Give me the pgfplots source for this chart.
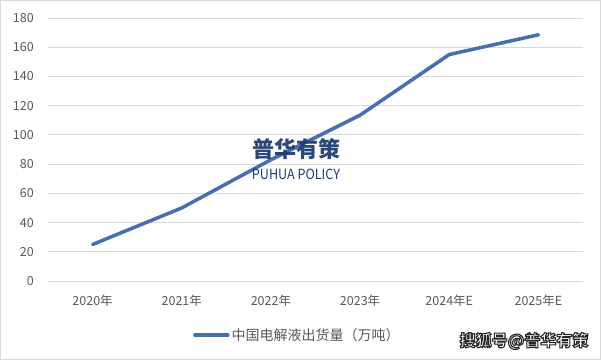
\documentclass[border=0pt]{standalone}
\usepackage{fontspec}
\setmainfont{Noto Sans CJK SC}
\usepackage{pgfplots}
\pgfplotsset{compat=1.18}
\definecolor{linec}{RGB}{70,110,178}
\definecolor{gridc}{RGB}{217,217,217}
\definecolor{txtc}{RGB}{89,89,89}
\definecolor{wmc}{RGB}{30,62,112}
\begin{document}
\begin{tikzpicture}
\draw[gridc, line width=1bp, fill=white] (0.5bp,0.5bp) rectangle (600.5bp,359.5bp);
\begin{axis}[
  at={(48bp,79bp)}, anchor=south west, scale only axis,
  width=535bp, height=263bp,
  xmin=-0.5, xmax=5.5, ymin=0, ymax=180,
  ytick={0,20,...,180}, xtick={0,1,2,3,4,5},
  xticklabels={2020年,2021年,2022年,2023年,2024年E,2025年E},
  axis line style={draw=none},
  ymajorgrids, grid style={gridc, line width=0.8bp},
  major tick length=0pt,
  /pgf/number format/assume math mode=true,
  tick label style={font=\fontsize{12.5bp}{14bp}\selectfont, text=txtc, inner sep=0pt},
  yticklabel style={anchor=east, xshift=-14bp},
  xticklabel style={anchor=base, yshift=-24bp},
  clip=false,
  legend style={at={(0.466,-0.2053)}, anchor=center, draw=none, fill=none,
    font=\fontsize{14bp}{16bp}\selectfont, text=txtc, inner sep=0pt,
    /tikz/every even column/.append style={column sep=0pt}},
  legend cell align=left,
  legend image code/.code={\draw[#1, line width=3.5bp] (0bp,0bp) -- (33bp,0bp);},
]
\addplot[linec, line width=3.5bp, line cap=round, line join=round, mark=none]
  coordinates {(0,25) (1,50) (2,83) (3,113.5) (4,155) (5,168.5)};
\addlegendentry{中国电解液出货量（万吨）}
\end{axis}
\node[font=\fontsize{22bp}{24bp}\selectfont\bfseries, text=wmc, text opacity=0.95, inner sep=0pt] at (296bp,210.5bp) {普华有策};
\node[font=\fontsize{14bp}{16bp}\selectfont, text=wmc, inner sep=0pt, xscale=0.9] at (296bp,185.5bp) {PUHUA POLICY};
\node[font=\fontsize{16bp}{18bp}\selectfont\bfseries, inner sep=0pt] at (524bp,19bp)
  {\color{white}\special{pdf:literal direct 0.15 0.15 0.15 RG 2 Tr 1.1 w}搜狐号@普华有策\special{pdf:literal direct 0 Tr}};
\end{tikzpicture}
\end{document}
